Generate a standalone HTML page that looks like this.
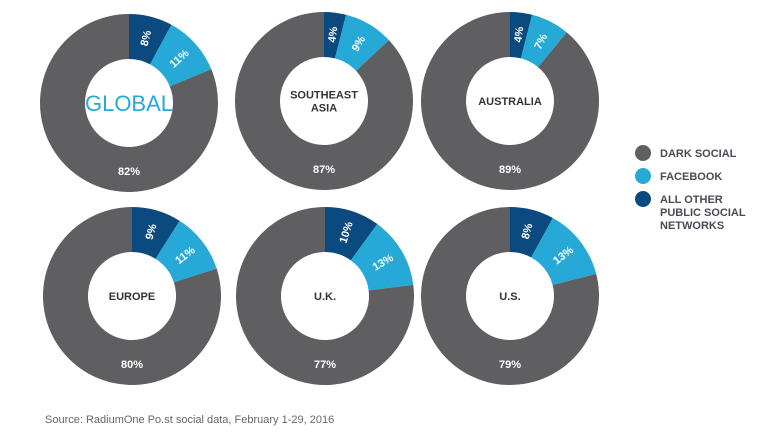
<!DOCTYPE html>
<html><head><meta charset="utf-8"><style>
body{margin:0;background:#fff;width:759px;height:427px;overflow:hidden;font-family:"Liberation Sans",sans-serif}
svg text{font-family:"Liberation Sans",sans-serif}
</style></head><body>
<svg id="c" width="759" height="427">
<g id="legend">
<circle cx="643" cy="153" r="8" fill="#5f5f61"/>
<text x="660" y="157" font-size="11" font-weight="bold" fill="#4a4a55">DARK SOCIAL</text>
<circle cx="643" cy="176" r="8" fill="#27a9d8"/>
<text x="660" y="180" font-size="11" font-weight="bold" fill="#4a4a55">FACEBOOK</text>
<circle cx="643" cy="199" r="8" fill="#0b4a7e"/>
<text x="660" y="203" font-size="11" font-weight="bold" fill="#4a4a55"><tspan x="660">ALL OTHER</tspan><tspan x="660" dy="13">PUBLIC SOCIAL</tspan><tspan x="660" dy="13">NETWORKS</tspan></text>
</g>
<text x="45" y="423" font-size="11" fill="#666">Source: RadiumOne Po.st social data, February 1-29, 2016</text>
</svg>
<script>
const regions=["GLOBAL","SOUTHEAST\nASIA","AUSTRALIA","EUROPE","U.K.","U.S."];
const otherVals=[8,4,4,9,10,8];
const facebookVals=[11,9,7,11,13,13];
const darkVals=[82,87,89,80,77,79];
const colors=["#0b4a7e","#27a9d8","#5f5f61"];
const centers=[[129,103],[324,101],[510,101],[132,296],[325,296],[510,296]];
const R=89,r=44,NS="http://www.w3.org/2000/svg";
const svg=document.getElementById('c');
function pt(a,rad,cx,cy){return [cx+rad*Math.sin(a),cy-rad*Math.cos(a)];}
regions.forEach((name,i)=>{
  const [cx,cy]=centers[i];
  const vals=[otherVals[i],facebookVals[i],darkVals[i]];
  const tot=vals.reduce((a,b)=>a+b,0);
  const g=document.createElementNS(NS,'g');
  
  
  svg.appendChild(g);
  let a0=0;
  vals.forEach((v,k)=>{
    const a1=a0+v/tot*2*Math.PI;
    const large=(a1-a0)>Math.PI?1:0;
    const p1=pt(a0,R,cx,cy),p2=pt(a1,R,cx,cy),p3=pt(a1,r,cx,cy),p4=pt(a0,r,cx,cy);
    const p=document.createElementNS(NS,'path');
    p.setAttribute('d',`M${p1}A${R},${R} 0 ${large} 1 ${p2}L${p3}A${r},${r} 0 ${large} 0 ${p4}Z`);
    p.setAttribute('fill',colors[k]);
    
    
    g.appendChild(p);
    const t=document.createElementNS(NS,'text');
    
    
    t.textContent=v+'%';
    t.setAttribute('font-size','11');t.setAttribute('font-weight','bold');t.setAttribute('fill','#fff');
    t.setAttribute('text-anchor','middle');
    if(k<2){const m=(a0+a1)/2;const [x,y]=pt(m,67,cx,cy);
      t.setAttribute('x',x);t.setAttribute('y',y+4);
      t.setAttribute('transform',`rotate(${m*180/Math.PI-90} ${x} ${y})`);}
    else{t.setAttribute('x',cx);t.setAttribute('y',cy+72);}
    g.appendChild(t);
    a0=a1;
  });
  const lt=document.createElementNS(NS,'text');
  
  
  lt.setAttribute('text-anchor','middle');
  if(i===0){lt.setAttribute('x',cx);lt.setAttribute('y',cy+8);lt.setAttribute('font-size','22');lt.setAttribute('fill','#27a9d8');lt.textContent=name;}
  else{const lines=name.split('\n');lt.setAttribute('font-size','11');lt.setAttribute('font-weight','bold');lt.setAttribute('fill','#333');
    lines.forEach((l,j)=>{const s=document.createElementNS(NS,'tspan');s.setAttribute('x',cx);s.setAttribute('y',cy+4-(lines.length-1)*6.5+j*13);s.textContent=l;lt.appendChild(s);});}
  g.appendChild(lt);
});
</script>
</body></html>
